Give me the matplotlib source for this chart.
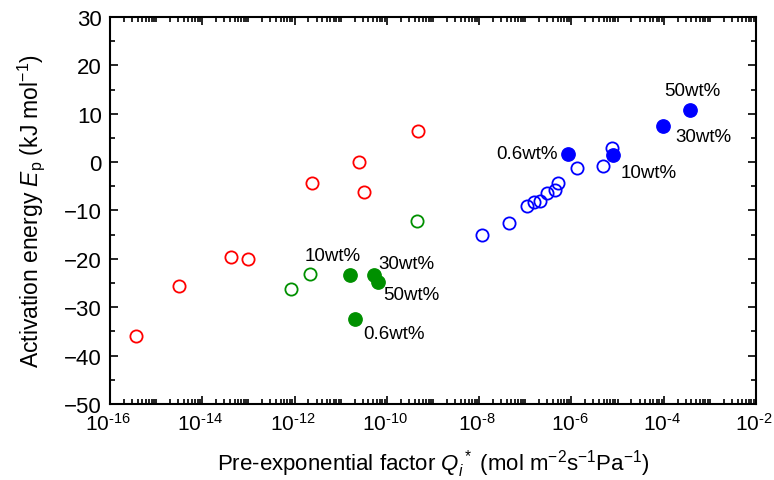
import matplotlib
matplotlib.use("Agg")
import matplotlib.pyplot as plt
import matplotlib.transforms as mtransforms
import numpy as np
from matplotlib.ticker import LogLocator, MultipleLocator, FuncFormatter, FixedLocator, NullFormatter

plt.rcParams['font.family'] = ['Liberation Sans', 'DejaVu Sans']
plt.rcParams['mathtext.fontset'] = 'custom'
plt.rcParams['mathtext.rm'] = 'Liberation Sans'
plt.rcParams['mathtext.it'] = 'Liberation Sans:italic'
plt.rcParams['mathtext.bf'] = 'Liberation Sans:bold'

# Data: pre-exponential factor Q (mol m-2 s-1 Pa-1), activation energy Ep (kJ/mol)
red_open_q = [3.6e-16, 3.2e-15, 4.2e-14, 1.0e-13, 2.4e-12, 2.5e-11, 3.2e-11, 4.8e-10]
red_open_e = [-35.9, -25.7, -19.7, -20.1, -4.4, 0.0, -6.2, 6.4]

green_open_q = [8.4e-13, 2.2e-12, 4.4e-10]
green_open_e = [-26.3, -23.2, -12.1]

green_fill_q = [1.6e-11, 2.0e-11, 5.3e-11, 6.3e-11]
green_fill_e = [-23.3, -32.4, -23.4, -24.7]
green_fill_lbl = ["10wt%", "0.6wt%", "30wt%", "50wt%"]

blue_open_q = [1.16e-8, 4.4e-8, 1.09e-7, 1.57e-7, 2.1e-7, 3.0e-7, 4.4e-7, 5.0e-7, 1.32e-6, 4.8e-6, 7.6e-6]
blue_open_e = [-15.1, -12.5, -9.05, -8.2, -8.0, -6.3, -5.7, -4.4, -1.3, -0.85, 2.9]

blue_fill_q = [8.6e-7, 7.9e-6, 9.8e-5, 3.7e-4]
blue_fill_e = [1.6, 1.5, 7.5, 10.7]
blue_fill_lbl = ["0.6wt%", "10wt%", "30wt%", "50wt%"]

x_ticks = [1e-16, 1e-14, 1e-12, 1e-10, 1e-8, 1e-6, 1e-4, 1e-2]

def fmt_pow(v, p):
    return r'$\mathregular{10^{\text{-%d}}}$' % abs(int(round(np.log10(v))))

fig = plt.figure(figsize=(7.74, 4.81), dpi=100)
ax = fig.add_axes([0.1421, 0.158, 0.8346, 0.8046])

ms_open = 8.8
ms_fill = 9.6
ax.plot(red_open_q, red_open_e, 'o', ls='none', mfc='none', mec='#ff0000', mew=1.3, ms=ms_open)
ax.plot(green_open_q, green_open_e, 'o', ls='none', mfc='none', mec='#009000', mew=1.3, ms=ms_open)
ax.plot(green_fill_q, green_fill_e, 'o', ls='none', mfc='#009000', mec='#009000', ms=ms_fill)
ax.plot(blue_open_q, blue_open_e, 'o', ls='none', mfc='none', mec='#0000ff', mew=1.3, ms=ms_open)
ax.plot(blue_fill_q, blue_fill_e, 'o', ls='none', mfc='#0000ff', mec='#0000ff', ms=ms_fill)

fs_lbl = 13.5
# green labels
ax.text(10**-11.17, -19.4, green_fill_lbl[0], fontsize=fs_lbl, ha='center', va='center')
ax.text(10**-10.52, -35.5, green_fill_lbl[1], fontsize=fs_lbl, ha='left', va='center')
ax.text(10**-10.18, -20.9, green_fill_lbl[2], fontsize=fs_lbl, ha='left', va='center')
ax.text(10**-10.08, -27.3, green_fill_lbl[3], fontsize=fs_lbl, ha='left', va='center')
# blue labels
ax.text(10**-6.30, 1.7, blue_fill_lbl[0], fontsize=fs_lbl, ha='right', va='center')
ax.text(10**-4.93, -2.1, blue_fill_lbl[1], fontsize=fs_lbl, ha='left', va='center')
ax.text(10**-3.755, 5.35, blue_fill_lbl[2], fontsize=fs_lbl, ha='left', va='center')
ax.text(10**-3.37, 14.85, blue_fill_lbl[3], fontsize=fs_lbl, ha='center', va='center')

ax.set_xscale('log')
ax.set_xlim(1e-16, 1e-2)
ax.set_ylim(-50, 30)
ax.xaxis.set_major_locator(FixedLocator(x_ticks))
ax.xaxis.set_minor_locator(LogLocator(base=10, subs=np.arange(1, 10), numticks=40))
ax.xaxis.set_minor_formatter(NullFormatter())
ax.xaxis.set_major_formatter(FuncFormatter(fmt_pow))
ax.yaxis.set_major_locator(MultipleLocator(10))
ax.yaxis.set_minor_locator(MultipleLocator(5))

ax.tick_params(which='both', direction='in', top=True, right=True, labelsize=16, width=1.2)
ax.tick_params(axis='x', which='major', labelsize=15, pad=6)
ax.tick_params(which='major', length=6)
ax.tick_params(which='minor', length=3.5)
ax.tick_params(axis='y', which='major', pad=6)
for s in ax.spines.values():
    s.set_linewidth(1.5)

offset = mtransforms.ScaledTranslation(-2 / 100, 0, fig.dpi_scale_trans)
for lbl in ax.get_xticklabels():
    lbl.set_transform(lbl.get_transform() + offset)

ax.set_xlabel(r'Pre-exponential factor $Q_{i}^{\,*}$ (mol m$^{-2}$s$^{-1}$Pa$^{-1}$)', fontsize=16, labelpad=9)
ax.set_ylabel(r'Activation energy $E_{\mathrm{p}}$ (kJ mol$^{-1}$)', fontsize=16.5, labelpad=12)

fig.savefig('out.png', dpi=100)
